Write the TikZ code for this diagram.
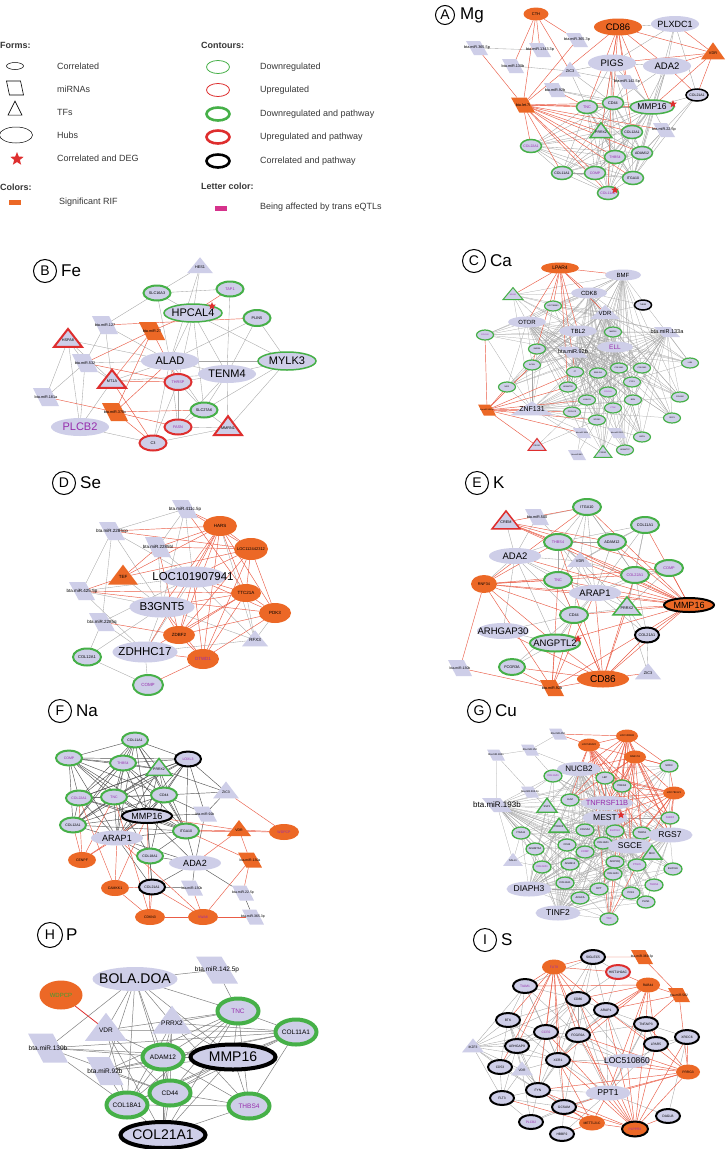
\documentclass[tikz,border=0pt]{standalone}
\usepackage{fontspec}
\setmainfont{Liberation Sans}
\usetikzlibrary{shapes.geometric,backgrounds}
\newcommand\myfs[1]{\fontsize{#1}{#1}\selectfont}
\newcommand\mypairs[2]{\foreach \xa/\xb in {#2}{\draw[#1] (\xa)--(\xb);}}
\newcommand\myfan[3]{\foreach \xb in {#3}{\draw[#1] (#2)--(\xb);}}
\newcommand\mybip[3]{\foreach \xa in {#2}{\foreach \xb in {#3}{\draw[#1] (\xa)--(\xb);}}}
\newcommand\myclq[2]{\foreach \xa [count=\ia] in {#2}{\foreach \xb [count=\ib] in {#2}{\ifnum\ia<\ib\relax\draw[#1] (\xa)--(\xb);\fi}}}
\definecolor{lav}{RGB}{206,206,232}
\definecolor{org}{RGB}{236,104,38}
\definecolor{grn}{RGB}{70,176,72}
\definecolor{rd}{RGB}{222,46,46}
\definecolor{mag}{RGB}{150,44,172}
\definecolor{eg}{RGB}{165,165,165}
\definecolor{er}{RGB}{234,92,70}
\definecolor{ek}{RGB}{85,85,85}
\definecolor{lgmag}{RGB}{214,50,140}
\definecolor{wgrn}{RGB}{60,160,50}
\definecolor{txt}{RGB}{55,55,55}
\tikzset{
 nb/.style={inner sep=0pt, outer sep=0pt, execute at begin node={\hbox to 0pt\bgroup\hss}, execute at end node={\hss\egroup}},
 E/.style 2 args={nb, ellipse, minimum width=#1, minimum height=#2},
 P/.style 2 args={nb, inner sep=1pt, trapezium, trapezium left angle=115, trapezium right angle=65, trapezium stretches=true, minimum width=#1, minimum height=#2},
 T/.style 2 args={nb, inner sep=1pt, isosceles triangle, isosceles triangle stretches, shape border rotate=90, minimum width=#1, minimum height=#2},
 L/.style={fill=lav}, O/.style={fill=org},
 G/.style={draw=grn, line width=#1}, G/.default=1.5,
 R/.style={draw=rd, line width=#1}, R/.default=1.5,
 K/.style={draw=black, line width=#1}, K/.default=1.5,
 M/.style={text=mag},
 f/.style={font=\myfs{#1}},
 ge/.style={draw=eg, line width=0.35},
 gc/.style={draw=eg, line width=0.25},
 re/.style={draw=er, line width=0.45},
 ke/.style={draw=ek, line width=0.45},
 he/.style={draw=black!50, line width=0.5},
 star5/.style={star, star points=5, star point ratio=2.3, fill=rd, minimum size=#1, inner sep=0pt},
 plab/.style={circle, draw, line width=1, minimum size=23, inner sep=0, font=\myfs{14}},
 ptit/.style={anchor=west, inner sep=0, font=\myfs{17}},
 lt/.style={anchor=west, inner sep=0, font=\myfs{9}, text=txt},
 lh/.style={anchor=west, inner sep=0, font=\bfseries\myfs{9}, text=txt},
}
\begin{document}
\begin{tikzpicture}[x=1pt,y=-1pt]
\useasboundingbox (0,0) rectangle (726,1149);
% ---------------- legend
\node[lh] (hForms) at (0,45) {Forms:};
\node[lh] (hCont) at (201,45) {Contours:};
\node[E={17}{7},draw,line width=0.5] (lg1) at (15,66) {};
\node[P={17}{14},draw,line width=0.6,trapezium left angle=105,trapezium right angle=75] (lg2) at (15,88) {};
\node[T={14}{14},draw,line width=0.6] (lg3) at (15,111) {};
\node[E={33}{16},draw,line width=0.5] (lg4) at (16,135) {};
\node[star5=14] (lg5) at (17,159) {};
\node[lt] (lt1) at (57,66) {Correlated};
\node[lt] (lt2) at (57,89) {miRNAs};
\node[lt] (lt3) at (57,112) {TFs};
\node[lt] (lt4) at (57,135) {Hubs};
\node[lt] (lt5) at (57,158) {Correlated and DEG};
\node[lh] (hCol) at (0,187) {Colors:};
\node[fill=org, minimum width=12, minimum height=5, inner sep=0] (lgRIF) at (15,202) {};
\node[lt] (lt6) at (59,202) {Significant RIF};
\node[E={23}{13},draw=grn,line width=0.8] (lc1) at (218,67) {};
\node[E={23}{13},draw=rd,line width=0.8] (lc2) at (218,90) {};
\node[E={23}{13},draw=grn,line width=2.6] (lc3) at (218,114) {};
\node[E={23}{13},draw=rd,line width=2.6] (lc4) at (218,137) {};
\node[E={23}{13},draw=black,line width=2.6] (lc5) at (218,161) {};
\node[lt] (lt7) at (260,67) {Downregulated};
\node[lt] (lt8) at (260,90) {Upregulated};
\node[lt] (lt9) at (260,114) {Downregulated and pathway};
\node[lt] (lt10) at (260,137) {Upregulated and pathway};
\node[lt] (lt11) at (260,161) {Correlated and pathway};
\node[lh] (hLet) at (201,186) {Letter color:};
\node[fill=lgmag, minimum width=12, minimum height=5, inner sep=0] (lgMag) at (221,208) {};
\node[lt] (lt12) at (260,207) {Being affected by trans eQTLs};
% ---------------- A Mg
\node[plab,minimum size=19] (labA) at (445,15) {A};
\node[ptit] (titA) at (460,15) {Mg};
\node[E={25}{13},O,f=4] (aCTH) at (536,14) {CTH};
\node[E={48}{17},O,f=9.5] (aCD86) at (618,27) {CD86};
\node[E={48}{16},L,f=9] (aPLX) at (675,24) {PLXDC1};
\node[P={22}{14},L,f=3.8] (a3653p) at (577,40) {bta.miR.365.3p};
\node[P={22}{14},L,f=3.8] (a3655p) at (477,48) {bta.miR.365.5p};
\node[P={22}{14},L,f=3.8] (a13433p) at (540,50) {bta.miR.1343.3p};
\node[T={24}{17},O,f=3.8] (aVDR) at (713,53) {VDR};
\node[E={48}{17},L,f=9.5] (aPIGS) at (612,63) {PIGS};
\node[E={48}{17},L,f=9.5] (aADA2) at (667,66) {ADA2};
\node[P={22}{14},L,f=3.8] (a130b) at (513,66) {bta.miR.130b};
\node[T={22}{15},L,f=3.8] (aZIC3) at (570,71) {ZIC3};
\node[P={22}{14},L,f=3.8] (a1425p) at (627,82) {bta.miR.142.5p};
\node[P={22}{14},L,f=3.8] (a92b) at (555,90) {bta.miR.92b};
\node[E={22}{12},L,K,f=3.5] (aCOL21A1) at (697,95) {COL21A1};
\node[P={24}{15},O,f=3.8] (alet7i) at (523,105) {bta.let.7i};
\node[E={21}{13},L,G,M,f=3.8] (aTNC) at (587,107) {TNC};
\node[E={21}{13},L,G,f=3.8] (aCD44) at (613,103) {CD44};
\node[E={44}{14},L,G,f=8.5] (aMMP16) at (652,107) {MMP16};
\node[T={22}{15},L,G,f=3.5] (aPRRX2) at (601,132) {PRRX2};
\node[E={21}{13},L,G,f=3.5] (aCOL12A1) at (632,132) {COL12A1};
\node[P={22}{14},L,f=3.8] (a225p) at (664,130) {bta.miR.22.5p};
\node[E={21}{13},L,G,M,f=3.5] (aCOL22A1) at (531,146) {COL22A1};
\node[E={21}{13},L,G,M,f=3.5] (aTHBS4) at (615,157) {THBS4};
\node[E={21}{13},L,G,f=3.5] (aADAM12) at (642,153) {ADAM12};
\node[E={21}{13},L,G,f=3.5] (aCOL11A1) at (562,173) {COL11A1};
\node[E={21}{13},L,G,M,f=3.5] (aCOMP) at (595,173) {COMP};
\node[E={21}{13},L,G,f=3.5] (aITGA10) at (633,178) {ITGA10};
\node[E={21}{13},L,G,M,f=3.5] (aCOL11A2) at (608,193) {COL11A2};
\node[star5=8] (aS1) at (673,104) {};
\node[star5=8] (aS2) at (615,190) {};
% ---------------- B Fe
\node[plab] (labB) at (45,271) {B};
\node[ptit] (titB) at (61,271) {Fe};
\node[T={26}{16},L,f=3.8] (bHES1) at (200,267) {HES1};
\node[E={27}{15},L,G=2,f=3.8] (bSLC16A3) at (157,293) {SLC16A3};
\node[E={27}{15},L,G=2,M,f=3.8] (bTAP1) at (230,289) {TAP1};
\node[E={58}{18},L,G,f=11] (bHPCAL4) at (193,313) {HPCAL4};
\node[E={27}{16},L,G=2,f=3.8] (bPLIN5) at (257,318) {PLIN5};
\node[P={26}{18},L,f=3.8] (b127) at (105,325) {bta.miR.127};
\node[P={26}{18},O,f=3.8] (b27) at (152,331) {bta.miR.27};
\node[T={28}{18},L,R=2,f=3.8] (bHSPA8) at (68,340) {HSPA8};
\node[P={26}{18},L,f=3.8] (b532) at (85,363) {bta.miR.532};
\node[E={58}{18},L,f=11] (bALAD) at (170,361) {ALAD};
\node[E={58}{18},L,G,f=11] (bMYLK3) at (287,361) {MYLK3};
\node[E={58}{18},L,f=11] (bTENM4) at (227,374) {TENM4};
\node[T={28}{18},L,R=2,f=3.8] (bMT1A) at (112,381) {MT1A};
\node[E={27}{16},L,R=2,M,f=3.8] (bTHRSP) at (178,382) {THRSP};
\node[P={26}{18},L,f=3.8] (b181a) at (46,397) {bta.miR.181a};
\node[P={26}{18},O,f=3.8] (b378c) at (115,412) {bta.miR.378c};
\node[E={27}{15},L,G=2,f=3.8] (bSLC27A6) at (204,410) {SLC27A6};
\node[E={58}{18},L,M,f=11] (bPLCB2) at (80,427) {PLCB2};
\node[E={27}{15},L,R=2,f=3.8] (bC3) at (153,443) {C3};
\node[E={27}{15},L,R=2,M,f=3.8] (bFASN) at (178,427) {FASN};
\node[T={28}{19},L,R=2,f=3.8] (bMID) at (228,428) {MMRN1};
\node[star5=8] (bS) at (212,306) {};
% ---------------- C Ca
\node[plab] (labC) at (474,261) {C};
\node[ptit] (titC) at (490,261) {Ca};
\node[E={38}{11},O,f=5] (cLPAR4) at (560,268) {LPAR4};
\node[E={36}{11},L,f=6] (cBMF) at (623,275) {BMF};
\node[E={36}{11},L,f=6] (cCDK8) at (589,293) {CDK8};
\node[T={20}{12},L,G=1,M,f=2] (cNR) at (513,295) {NR4A1};
\node[E={17}{10},L,G=1.2,f=2] (cLOC) at (553,306) {LOC789090};
\node[E={17}{10},L,K=1.5,f=2] (cTHB) at (643,305) {THBS3};
\node[T={30}{14},L,f=6] (cVDR) at (605,313) {VDR};
\node[E={38}{11},L,f=6] (cOTOR) at (527,322) {OTOR};
\node[E={38}{11},L,f=6] (cTBL2) at (578,331) {TBL2};
\node[E={17}{10},L,G=1.2,f=2] (cMMP) at (613,332) {MMP16};
\node[P={26}{10},L,f=5.5] (c133a) at (667,332) {bta.miR.133a};
\node[E={17}{10},L,G=1.2,M,f=2] (cCOL1A2) at (485,335) {COL1A2};
\node[E={17}{10},L,G=1.2,f=2] (cSMR) at (537,349) {SMR3A};
\node[P={30}{11},L,f=5.5] (c92b) at (573,352) {bta.miR.92b};
\node[E={36}{11},L,M,f=6.5] (cELL) at (615,347) {ELL};
\node[E={17}{10},L,G=1.2,f=2] (cLUM) at (690,363) {LUM};
\node[E={17}{10},L,G=1.2,f=2] (cACAN) at (532,365) {ACAN};
\node[E={17}{10},L,G=1.2,f=2] (cF) at (575,372) {F7};
\node[E={17}{10},L,G=1.2,f=2] (cEMI) at (598,373) {EMILIN1};
\node[E={17}{10},L,G=1.2,f=2] (cC15) at (619,368) {COL15A1};
\node[E={17}{10},L,G=1.2,f=2] (cC25) at (642,368) {COL25A1};
\node[E={17}{10},L,G=1.2,f=2] (cCYS) at (632,382) {CYS1};
\node[E={17}{10},L,G=1.2,f=2] (cADM) at (568,387) {ADAMTS2};
\node[E={17}{10},L,G=1.2,f=2] (cNID) at (507,387) {NID2};
\node[E={17}{10},L,G=1.2,M,f=2] (cC1) at (608,392) {COL1A1};
\node[E={17}{10},L,G=1.2,f=2] (cC6) at (680,397) {COL6A2};
\node[E={17}{10},L,G=1.2,f=2] (cLGA) at (587,400) {LGALS1};
\node[E={17}{10},L,G=1.2,f=2] (cBGN) at (633,400) {BGN};
\node[P={18}{11},O,f=2] (cMIRo) at (487,410) {bta.miR.365.5p};
\node[T={44}{14},L,f=7] (cZNF) at (532,409) {ZNF131};
\node[E={17}{10},L,G=1.2,f=2] (cPCOL) at (572,412) {PCOLCE};
\node[E={17}{10},L,G=1.2,M,f=2] (cCTSK) at (613,408) {CTSK};
\node[E={17}{10},L,G=1.2,f=2] (cSPON) at (597,420) {SPON2};
\node[E={17}{10},L,G=1.2,f=2] (cDDC) at (672,418) {SDC3};
\node[P={18}{10},L,f=2] (c199) at (582,433) {bta.miR.199b};
\node[P={18}{10},L,f=2] (c2) at (617,433) {bta.miR.2331};
\node[E={17}{10},L,G=1.2,f=2] (cG1) at (642,437) {ASPN};
\node[T={18}{12},L,R=1,f=2] (cPROX) at (537,446) {PROX1};
\node[P={18}{10},L,f=2] (cMIRx) at (577,455) {bta.miR.660};
\node[T={18}{12},L,G=1,f=2] (cTF2) at (603,453) {PRRX2};
\node[E={17}{10},L,G=1.2,f=2] (cG2) at (625,450) {ADAMTS7};
% ---------------- D Se
\node[plab] (labD) at (64,483) {D};
\node[ptit] (titD) at (80,483) {Se};
\node[P={26}{18},L,f=4.5] (d411) at (185,509) {bta.miR.411c.5p};
\node[E={34}{20},O,f=4.5] (dHARS) at (220,526) {HARS};
\node[P={26}{18},L,f=4.5] (d2285cp) at (112,531) {bta.miR.2285cp};
\node[P={26}{20},L,f=4.5] (d2285bl) at (158,547) {bta.miR.2285bl};
\node[E={34}{22},O,f=4] (dLOC112) at (251,549) {LOC112442312};
\node[T={30}{20},O,f=4.5] (dTEF) at (123,577) {TEF};
\node[E={66}{21},L,f=11.5] (dLOC101) at (193,577) {LOC101907941};
\node[P={26}{18},L,f=4.5] (d425) at (82,591) {bta.miR.425.5p};
\node[E={30}{18},O,f=4.5] (dTTC21A) at (246,593) {TTC21A};
\node[E={65}{21},L,f=11.5] (dB3GNT5) at (162,607) {B3GNT5};
\node[E={32}{20},O,f=4.5] (dPDK3) at (275,613) {PDK3};
\node[P={26}{18},L,f=4.5] (d2285q) at (102,622) {bta.miR.2285q};
\node[E={32}{18},O,f=4.5] (dZDBF2) at (179,635) {ZDBF2};
\node[T={26}{16},L,f=4.5] (dRFX3) at (255,640) {RFX3};
\node[E={65}{21},L,f=11.5] (dZDHHC17) at (145,652) {ZDHHC17};
\node[E={28}{17},L,G=2,f=4] (dCOL12A1) at (87,657) {COL12A1};
\node[E={32}{20},O,M,f=4.5] (dDTWD1) at (203,659) {DTWD1};
\node[E={30}{20},L,G=2,M,f=4.5] (dCOMP) at (148,685) {COMP};
% ---------------- E K
\node[plab] (labE) at (477,483) {E};
\node[ptit] (titE) at (493,483) {K};
\node[E={28}{16},L,G=2,f=3.8] (eITGA10) at (587,507) {ITGA10};
\node[P={24}{16},L,f=3.8] (e500) at (537,517) {bta.miR.500};
\node[T={28}{18},L,R,f=3.8] (eCREM) at (506,522) {CREM};
\node[E={28}{16},L,G=2,f=3.8] (eCOL11A1) at (645,525) {COL11A1};
\node[E={28}{16},L,G=2,M,f=3.8] (eTHBS4) at (558,542) {THBS4};
\node[E={28}{16},L,G=2,f=3.8] (eADAM12) at (612,542) {ADAM12};
\node[E={52}{16},L,f=9.5] (eADA2) at (515,556) {ADA2};
\node[T={26}{15},L,f=3.8] (eVDR) at (580,561) {VDR};
\node[E={28}{16},L,G=2,M,f=3.8] (eCOMP) at (669,568) {COMP};
\node[E={28}{16},L,G=2,M,f=3.8] (eCOL22A1) at (635,575) {COL22A1};
\node[E={28}{16},L,G=2,M,f=3.8] (eTNC) at (558,580) {TNC};
\node[E={26}{18},O,f=3.8] (eRNF34) at (484,584) {RNF34};
\node[E={52}{16},L,f=9.5] (eARAP1) at (595,593) {ARAP1};
\node[E={50}{14},O,K=2,f=9] (eMMP16) at (689,605) {MMP16};
\node[T={28}{18},L,G,f=3.8] (ePRRX2) at (627,608) {PRRX2};
\node[E={28}{16},L,G=2,f=3.8] (eCD44) at (574,615) {CD44};
\node[E={52}{16},L,f=9.5] (eARHGAP30) at (503,631) {ARHGAP30};
\node[E={24}{15},L,K=2,f=3.8] (eCOL21A1) at (647,635) {COL21A1};
\node[E={50}{17},L,G=2,f=9.5] (eANGPTL2) at (555,643) {ANGPTL2};
\node[P={24}{16},L,f=3.5] (e130b) at (460,668) {bta.miR.130b};
\node[E={26}{16},L,G=2,f=3.8] (eFCGR3A) at (512,667) {FCGR3A};
\node[E={52}{17},O,f=10] (eCD86) at (603,679) {CD86};
\node[T={26}{16},L,f=3.8] (eZIC3) at (648,673) {ZIC3};
\node[P={24}{16},O,f=3.8] (e92b) at (552,688) {bta.miR.92b};
\node[star5=8] (eS) at (578,639) {};
% ---------------- F Na
\node[plab] (labF) at (60,711) {F};
\node[ptit] (titF) at (76,711) {Na};
\node[E={26}{15},L,G=2,f=3.5] (fCOL11A1) at (135,740) {COL11A1};
\node[E={26}{15},L,G=2,M,f=3.5] (fCOMP) at (69,758) {COMP};
\node[E={26}{15},L,K=2,M,f=3.5] (fLOXL3) at (188,759) {LOXL3};
\node[E={26}{15},L,G=2,M,f=3.5] (fTHBS4) at (123,763) {THBS4};
\node[T={26}{17},L,G,f=3.5] (fPRRX2) at (159,769) {PRRX2};
\node[T={26}{17},L,f=3.5] (fZIC3) at (226,792) {ZIC3};
\node[E={26}{15},L,G=2,M,f=3.5] (fCOL22A1) at (79,798) {COL22A1};
\node[E={26}{15},L,G=2,M,f=3.5] (fTNC) at (114,797) {TNC};
\node[E={26}{15},L,G=2,f=3.5] (fCD44) at (164,795) {CD44};
\node[E={50}{14},L,K=2,f=9] (fMMP16) at (147,816) {MMP16};
\node[P={24}{15},L,f=3.5] (f92b) at (205,814) {bta.miR.92b};
\node[E={26}{15},L,G=2,f=3.5] (fCOL12A1) at (73,825) {COL12A1};
\node[E={26}{15},L,G=2,f=3.5] (fITGA10) at (186,831) {ITGA10};
\node[T={24}{16},O,f=3.5] (fVDR) at (239,830) {VDR};
\node[E={30}{16},O,M,f=3.5] (fWDPCP) at (284,832) {WDPCP};
\node[E={52}{15},L,f=9] (fARAP1) at (117,838) {ARAP1};
\node[E={26}{15},L,G=2,f=3.5] (fCOL18A1) at (150,856) {COL18A1};
\node[E={28}{16},O,f=3.5] (fCENPF) at (82,860) {CENPF};
\node[E={52}{15},L,f=9] (fADA2) at (195,863) {ADA2};
\node[P={24}{15},O,f=3.5] (f130a) at (250,860) {bta.miR.130a};
\node[E={28}{16},O,f=3.5] (fCAMKK1) at (115,888) {CAMKK1};
\node[E={26}{15},L,K=2,f=3.5] (fCOL21A1) at (152,887) {COL21A1};
\node[P={22}{15},L,f=3.5] (f130b) at (192,888) {bta.miR.130b};
\node[P={22}{15},L,f=3.5] (f225p) at (243,893) {bta.miR.22.5p};
\node[E={30}{16},O,f=3.5] (fCDKN3) at (150,917) {CDKN3};
\node[E={30}{16},O,M,f=3.5] (fVWA) at (203,917) {VWA8};
\node[P={22}{15},L,f=3.5] (f3653p) at (253,917) {bta.miR.365.3p};
% ---------------- G Cu
\node[plab] (labG) at (479,711) {G};
\node[ptit] (titG) at (495,711) {Cu};
\node[P={18}{11},L,f=2.6] (gm450) at (558,734) {bta.miR.450};
\node[E={22}{13},O,f=2.6] (gLOCa) at (627,736) {LOC100848};
\node[E={22}{13},O,f=2.6] (gLOCb) at (589,745) {LOC530422};
\node[P={18}{11},L,f=2.6] (gm1) at (530,750) {bta.miR.150};
\node[P={18}{11},L,f=2.6] (gm2) at (496,755) {bta.miR.1801};
\node[E={22}{13},O,f=2.6] (gRAB) at (635,757) {RAB17A};
\node[E={18}{12},L,G=1.3,f=2.6] (gSOD) at (669,766) {SOD3};
\node[E={44}{14},L,f=8] (gNUCB2) at (579,769) {NUCB2};
\node[E={18}{12},L,G=1.3,M,f=2.6] (gCOL) at (553,776) {COL14A1};
\node[E={18}{12},L,G=1.3,f=2.6] (gLEP) at (605,778) {LEP};
\node[E={18}{12},L,G=1.3,f=2.6] (gPRKG) at (622,786) {PRKG2};
\node[P={18}{11},L,f=2.6] (gm3655) at (530,792) {bta.miR.365.5p};
\node[E={22}{13},O,f=2.6] (gLOCc) at (674,793) {LOC784121};
\node[E={18}{12},L,G=1.3,f=2.6] (gLUM) at (570,800) {LUM};
\node[E={52}{14},L,M,f=7.5] (gTNF) at (607,803) {TNFRSF11B};
\node[P={30}{14},L,f=8] (gm193b) at (497,805) {bta.miR.193b};
\node[T={20}{14},L,G=1.3,f=2.6] (gSSP1) at (547,807) {SSP1};
\node[E={45}{15},L,f=8.5] (gMEST) at (605,818) {MEST};
\node[E={18}{12},L,G=1.3,M,f=2.6] (gFABP) at (670,818) {FABP4};
\node[T={20}{14},L,G=1.3,f=2.6] (gPRRX2) at (559,827) {PRRX2};
\node[E={18}{12},L,G=1.3,f=2.6] (gCOL5A2) at (585,830) {COL5A2};
\node[E={18}{12},L,G=1.3,M,f=2.6] (gELOVL) at (615,831) {ELOVL3};
\node[E={18}{12},L,G=1.3,f=2.6] (gTHBS1) at (642,833) {THBS1};
\node[E={18}{12},L,G=1.3,f=2.6] (gITGA) at (521,833) {ITGA11};
\node[E={45}{15},L,f=8.5] (gRGS7) at (670,835) {RGS7};
\node[E={18}{12},L,G=1.3,f=2.6] (gCOL18) at (603,843) {COL18A1};
\node[E={45}{15},L,f=8.5] (gSGCE) at (630,846) {SGCE};
\node[E={18}{12},L,G=1.3,f=2.6] (gCD44) at (567,845) {CD44};
\node[E={18}{12},L,G=1.3,f=2.6] (gADAM) at (535,849) {ADAMTS4};
\node[T={20}{14},L,G=1.3,f=2.6] (gNKX) at (652,854) {MKX};
\node[E={18}{12},L,G=1.3,M,f=2.6] (gCOMP) at (585,852) {COMP};
\node[T={20}{13},L,f=2.6] (gSAL) at (513,861) {SALL1};
\node[E={18}{12},L,G=1.3,M,f=2.6] (gCOLEC) at (542,867) {COL22A1};
\node[E={18}{12},L,G=1.3,f=2.6] (gADAM12) at (570,864) {ADAM12};
\node[E={18}{12},L,G=1.3,f=2.6] (gADIPOQ) at (615,862) {ADIPOQ};
\node[E={18}{12},L,G=1.3,M,f=2.6] (gPTGIS) at (637,865) {PTGIS};
\node[E={18}{12},L,G=1.3,f=2.6] (gELOVL6) at (673,869) {ELOVL6};
\node[E={18}{12},L,G=1.3,f=2.6] (gCOLx) at (613,874) {COL12A1};
\node[E={18}{12},L,G=1.3,f=2.6] (gCOL11) at (565,883) {COL11A1};
\node[E={45}{15},L,f=8.5] (gDIAPH3) at (529,889) {DIAPH3};
\node[E={18}{12},L,G=1.3,f=2.6] (gX) at (599,889) {DPT};
\node[E={18}{12},L,G=1.3,M,f=2.6] (gTHBS4) at (654,885) {THBS4};
\node[E={18}{12},L,G=1.3,f=2.6] (gPCK) at (631,893) {PCK1};
\node[E={18}{12},L,G=1.3,f=2.6] (gAGK) at (580,898) {ACACA};
\node[E={18}{12},L,G=1.3,f=2.6] (gPLIN1) at (646,902) {PLIN1};
\node[E={45}{15},L,f=8.5] (gTINF2) at (558,913) {TINF2};
\node[E={18}{12},L,G=1.3,M,f=2.6] (gTNC) at (609,919) {TNC};
\node[star5=8] (gS) at (621,815) {};
% ---------------- H P
\node[plab,minimum size=25] (labH) at (50,935) {H};
\node[ptit] (titH) at (66,935) {P};
\node[P={42}{27},L,f=6.5] (h142) at (217,970) {bta.miR.142.5p};
\node[E={85}{24},L,f=14] (hBOLA) at (135,979) {BOLA.DOA};
\node[E={43}{29},O,text=wgrn,f=6] (hWDPCP) at (61,995) {WDPCP};
\node[E={41}{25},L,G=4,M,f=6.5] (hTNC) at (238,1011) {TNC};
\node[T={40}{28},L,f=6.5] (hPRRX2) at (172,1023) {PRRX2};
\node[T={42}{28},L,f=6.5] (hVDR) at (106,1030) {VDR};
\node[E={41}{25},L,G=4,f=6.5] (hCOL11A1) at (296,1032) {COL11A1};
\node[P={40}{29},L,f=6.5] (h130b) at (48,1048) {bta.miR.130b};
\node[E={41}{25},L,G=4,f=6.5] (hADAM12) at (163,1057) {ADAM12};
\node[E={85}{25},L,K=4,f=14] (hMMP16) at (233,1057) {MMP16};
\node[P={37}{28},L,f=6.5] (h92b) at (105,1071) {bta.miR.92b};
\node[E={41}{25},L,G=4,f=6.5] (hCD44) at (170,1093) {CD44};
\node[E={41}{25},L,G=4,f=6.5] (hCOL18A1) at (127,1105) {COL18A1};
\node[E={41}{25},L,G=4,M,f=6.5] (hTHBS4) at (249,1106) {THBS4};
\node[E={85}{26},L,K=4,f=14] (hCOL21A1) at (163,1135) {COL21A1};
% ---------------- I S
\node[plab] (labI) at (485,940) {I};
\node[ptit] (titI) at (501,940) {S};
\node[E={24}{14},L,K=2,f=3.3] (iSIGLEC5) at (593,957) {SIGLEC5};
\node[P={22}{14},O,f=3.3] (i3693p) at (642,957) {bta.miR.369.3p};
\node[E={24}{15},O,M,f=3.3] (iFUT) at (554,967) {FUT8};
\node[E={24}{14},L,R=2,f=3.3] (iHIST) at (618,972) {HIST1H2AC};
\node[E={24}{14},L,K=2,M,f=3.3] (iTIAM1) at (525,986) {TIAM1};
\node[E={24}{15},O,f=3.3] (iRAB44) at (648,985) {RAB44};
\node[P={22}{14},O,f=3.3] (i582) at (679,995) {bta.miR.582};
\node[E={24}{14},L,K=2,f=3.3] (iCD86) at (578,999) {CD86};
\node[E={24}{14},L,K=2,f=3.3] (iARAP1) at (606,1010) {ARAP1};
\node[E={24}{14},L,K=2,f=3.3] (iBTK) at (508,1020) {BTK};
\node[E={24}{14},L,K=2,f=3.3] (iTNFAIP3) at (646,1024) {TNFAIP3};
\node[E={24}{14},L,K=2,M,f=3.3] (iCCR2) at (546,1032) {CCR2};
\node[E={24}{14},L,K=2,f=3.3] (iFCGR2A) at (578,1035) {FCGR2A};
\node[E={24}{14},L,K=2,f=3.3] (iXRCC6) at (687,1037) {XRCC6};
\node[E={24}{14},L,K=2,f=3.3] (iLPAR5) at (656,1044) {LPAR5};
\node[T={22}{14},L,f=3.3] (iIKZF3) at (473,1047) {IKZF3};
\node[E={24}{14},L,K=2,f=3.3] (iARHGAP9) at (517,1046) {ARHGAP9};
\node[E={24}{14},L,K=2,f=3.3] (iXCR1) at (558,1060) {XCR1};
\node[E={46}{14},L,f=8.5] (iLOC) at (627,1061) {LOC510860};
\node[E={24}{14},L,K=2,f=3.3] (iCD53) at (500,1067) {CD53};
\node[T={22}{14},L,f=3.3] (iVDR) at (522,1070) {VDR};
\node[E={24}{15},O,f=3.3] (iPRRG3) at (688,1072) {PRRG3};
\node[E={24}{14},L,K=2,f=3.3] (iFYN) at (538,1090) {FYN};
\node[E={45}{15},L,f=8.5] (iPPT1) at (608,1093) {PPT1};
\node[E={24}{14},L,K=2,f=3.3] (iFLT3) at (502,1098) {FLT3};
\node[E={24}{14},L,K=2,f=3.3] (iGCSAM) at (564,1107) {GCSAM};
\node[E={24}{14},L,K=2,f=3.3] (iDAGLB) at (668,1116) {DAGLB};
\node[E={24}{14},L,K=2,M,f=3.3] (iPLCB2) at (531,1122) {PLCB2};
\node[E={26}{15},O,f=3.3] (iMETTL) at (592,1123) {METTL21C};
\node[E={26}{15},O,K=2,M,f=3.3] (iPLPPR) at (635,1129) {PLPPR3};
\node[E={24}{14},L,K=2,f=3.3] (iHBBP2) at (562,1134) {HBBP2};
% ================= edges
\begin{scope}[on background layer]
\fill[white] (0,0) rectangle (726,1149);
% A
\myclq{ge}{aTNC,aCD44,aMMP16,aPRRX2,aCOL12A1,aCOL22A1,aTHBS4,aADAM12,aCOL11A1,aCOMP,aITGA10,aCOL11A2}
\mypairs{ge}{a3655p/a13433p,a130b/aZIC3,aCD86/aPLX,aPLX/aPIGS,aPLX/aADA2,aPLX/aCOL21A1,aPLX/aMMP16,aPIGS/aADA2,aPIGS/aTNC,aPIGS/aCD44,aPIGS/aMMP16,aPIGS/aCOL12A1,aPIGS/aPRRX2,aADA2/aMMP16,aADA2/aCD44,aADA2/aCOL12A1,aADA2/aADAM12,aADA2/aITGA10,aZIC3/aTNC,aZIC3/aCD44,aZIC3/aPIGS,aZIC3/a1425p,a1425p/aMMP16,a1425p/aCD44,a92b/aCD44,a92b/aMMP16,aCOL21A1/aMMP16,aCOL21A1/aADAM12,aCOL21A1/aITGA10,a225p/aMMP16,a225p/aITGA10,a225p/aADAM12}
\mypairs{re}{aCTH/a130b,aCTH/a13433p,aCTH/aZIC3,aCTH/a3653p,aCTH/alet7i,a3655p/alet7i,a3653p/alet7i,aCD86/aPIGS,aCD86/aADA2,aCD86/aVDR,aCD86/aTNC,aCD86/aCD44,aCD86/aMMP16,aCD86/a1425p,aCD86/aPRRX2,aCD86/alet7i,aCD86/aCOL12A1,aPLX/aVDR,aVDR/aADA2,aVDR/aCOL21A1,aVDR/aMMP16,aVDR/aPIGS,alet7i/aTNC,alet7i/aCD44,alet7i/aMMP16,alet7i/aCOL22A1,alet7i/aCOL11A1,alet7i/aCOMP,alet7i/aTHBS4,alet7i/aADAM12,alet7i/aITGA10,alet7i/aCOL11A2,alet7i/aPRRX2,alet7i/aCOL12A1,alet7i/a225p,a92b/aTNC,aPIGS/aCOL11A2,aADA2/aCOL21A1}
% B
\mypairs{ge}{bHES1/bSLC16A3,bHES1/bHPCAL4,bHES1/bALAD,bSLC16A3/bTAP1,bSLC16A3/bHPCAL4,bSLC16A3/bALAD,bSLC16A3/b127,bTAP1/bTENM4,bHPCAL4/bALAD,bHPCAL4/bTENM4,bHPCAL4/bMYLK3,bHPCAL4/bTHRSP,bHPCAL4/bSLC27A6,bPLIN5/bTENM4,bPLIN5/bMYLK3,bPLIN5/bALAD,b127/bALAD,b127/bMT1A,b127/b532,bHSPA8/bALAD,bHSPA8/b532,bHSPA8/b181a,bHSPA8/bPLCB2,b532/bALAD,b532/bMT1A,bALAD/bTENM4,bALAD/bMYLK3,bALAD/bTHRSP,bALAD/bSLC27A6,bALAD/bMT1A,bALAD/bC3,bALAD/bFASN,bTENM4/bMYLK3,bTENM4/bTHRSP,bTENM4/bSLC27A6,bTENM4/bFASN,bTENM4/bMID,bMYLK3/bSLC27A6,bMYLK3/bMID,bMT1A/bTENM4,bTHRSP/bSLC27A6,bTHRSP/bC3,bTHRSP/bFASN,bSLC27A6/bFASN,bSLC27A6/bMID,bPLCB2/bMT1A,bPLCB2/b532,b181a/b532,bPLCB2/bC3,bHSPA8/bMT1A,bFASN/bMID,bC3/bMID}
\mypairs{re}{b127/bPLIN5,b27/b532,b27/bHPCAL4,b27/b378c,b27/bMT1A,b27/bTHRSP,bMT1A/bTHRSP,bMT1A/bC3,b181a/b378c,b378c/bSLC27A6,b378c/bALAD,b378c/bFASN,b378c/bC3,bHPCAL4/bTAP1,b532/bTHRSP}
% C
\mybip{gc}{cBMF,cCDK8,cOTOR,cTBL2,cVDR,cELL,c92b,c133a,cZNF}{cNR,cLOC,cMMP,cCOL1A2,cSMR,cLUM,cACAN,cF,cEMI,cC15,cC25,cCYS,cADM,cNID,cC1,cC6,cLGA,cBGN,cPCOL,cCTSK,cSPON,cDDC,cG1,cTF2,cG2}
\mypairs{gc}{cTHB/cVDR,cTHB/cCDK8,cBMF/cCDK8,cCDK8/cOTOR,cOTOR/cTBL2,cTBL2/cVDR,c199/cLGA,c199/cPCOL,c2/cBGN,c2/cCTSK,cMIRx/cSPON,cMIRx/cLGA,cPROX/cPCOL,cPROX/cSPON,cG2/cBGN,cTF2/cCTSK}
\myfan{re}{cLPAR4}{cNR,cLOC,cOTOR,cCDK8,cTBL2,cVDR,cF,cADM,cBMF,cACAN}
\myfan{re}{cMIRo}{cCOL1A2,cACAN,cNID,cPCOL,cSPON,cF,cADM,c199,cLGA,cPROX,cZNF}
% D
\mypairs{ge}{d411/d2285cp,d411/d2285bl,d411/dLOC101,d411/dB3GNT5,d2285cp/d425,d2285cp/d2285q,d2285cp/dB3GNT5,d2285cp/dLOC101,d2285bl/dB3GNT5,d2285bl/dLOC101,dTEF/dB3GNT5,d425/dB3GNT5,d425/dLOC101,d425/dZDHHC17,d2285q/dLOC101,d2285q/dZDHHC17,d2285q/dCOL12A1,dLOC101/dRFX3,dB3GNT5/dRFX3,dB3GNT5/dZDHHC17,dZDHHC17/dCOMP,dZDHHC17/dRFX3,dCOL12A1/dCOMP,dRFX3/dHARS,dRFX3/dTTC21A,dRFX3/dPDK3,dLOC101/dZDHHC17,dCOL12A1/dB3GNT5}
\mypairs{re}{d411/dHARS,d411/dLOC112,d411/dTTC21A,d2285cp/dHARS,d2285cp/dLOC112,d2285bl/dHARS,d2285bl/dLOC112,d2285bl/dTEF,d2285bl/dZDBF2,dTEF/dHARS,dTEF/dLOC112,d425/dTEF,d425/dTTC21A,d425/dPDK3,d2285q/dZDBF2,dHARS/dLOC112,dHARS/dTTC21A,dHARS/dPDK3,dHARS/dZDBF2,dHARS/dDTWD1,dLOC112/dTTC21A,dLOC112/dPDK3,dLOC112/dDTWD1,dLOC112/dZDBF2,dTTC21A/dPDK3,dTTC21A/dZDBF2,dTTC21A/dDTWD1,dPDK3/dDTWD1,dPDK3/dZDBF2,dZDBF2/dDTWD1,dLOC101/dHARS,dLOC101/dLOC112,dLOC101/dTTC21A,dLOC101/dPDK3,dLOC101/dZDBF2,dLOC101/dDTWD1,dB3GNT5/dHARS,dB3GNT5/dTTC21A,dB3GNT5/dZDBF2,dB3GNT5/dDTWD1,dZDHHC17/dDTWD1,dCOMP/dDTWD1,dZDHHC17/dHARS,dZDHHC17/dTTC21A}
% E
\mypairs{ge}{eITGA10/eTHBS4,eITGA10/eADAM12,eITGA10/eVDR,eITGA10/eTNC,eITGA10/eARAP1,eITGA10/eCOL22A1,eITGA10/e500,eCOL11A1/eADAM12,eCOL11A1/eTHBS4,eCOL11A1/eVDR,eCOL11A1/eCOL22A1,eCOL11A1/ePRRX2,eCOL11A1/eARAP1,e500/eADA2,e500/eVDR,eADA2/eTHBS4,eADA2/eTNC,eADA2/eVDR,eADA2/eARAP1,eADA2/eCD44,eADA2/eARHGAP30,eADA2/eANGPTL2,eCREM/eADA2,eTHBS4/eADAM12,eTHBS4/eVDR,eTHBS4/eTNC,eTHBS4/eARAP1,eADAM12/eVDR,eADAM12/eCOL22A1,eADAM12/eARAP1,eVDR/eTNC,eVDR/eCOL22A1,eVDR/eARAP1,eVDR/eCD44,eVDR/ePRRX2,eCOMP/eCOL22A1,eCOMP/ePRRX2,eCOMP/eARAP1,eCOL22A1/eARAP1,eCOL22A1/ePRRX2,eCOL22A1/eCOL21A1,eTNC/eARAP1,eTNC/eCD44,eARAP1/eCD44,eARAP1/ePRRX2,eARAP1/eANGPTL2,eARAP1/eCOL21A1,eCD44/ePRRX2,eCD44/eANGPTL2,eCD44/eARHGAP30,ePRRX2/eCOL21A1,eARHGAP30/eANGPTL2,eANGPTL2/eFCGR3A,eZIC3/eCOL21A1,eZIC3/ePRRX2,eFCGR3A/eCD44,eADA2/eRNF34}
\mypairs{re}{eRNF34/eTHBS4,eRNF34/eTNC,eRNF34/eARAP1,eRNF34/eMMP16,eRNF34/eCD44,eRNF34/eANGPTL2,eRNF34/e130b,eRNF34/e92b,eRNF34/eCOL22A1,eRNF34/eCOMP,eRNF34/eITGA10,eMMP16/eITGA10,eMMP16/eCOL11A1,eMMP16/eTHBS4,eMMP16/eADAM12,eMMP16/eCOMP,eMMP16/eCOL22A1,eMMP16/eTNC,eMMP16/eARAP1,eMMP16/ePRRX2,eMMP16/eCD44,eMMP16/eCOL21A1,eMMP16/eANGPTL2,eMMP16/eCD86,eMMP16/e92b,eMMP16/eADA2,eMMP16/eVDR,eMMP16/eCREM,eCD86/eANGPTL2,eCD86/eCD44,eCD86/eARAP1,eCD86/eTNC,eCD86/eCOL22A1,eCD86/ePRRX2,eCD86/eCOL21A1,eCD86/eZIC3,eCD86/e92b,eCD86/eFCGR3A,eCD86/eARHGAP30,eCD86/eTHBS4,e92b/e130b,e92b/eFCGR3A,e92b/eANGPTL2,e92b/eARAP1,e92b/eCD44,e92b/eTNC,eCREM/eITGA10,eCREM/eTHBS4,eCREM/eADAM12,eCREM/eCOL22A1,eCREM/eCOMP}
% F
\myclq{ke}{fCOL11A1,fCOMP,fLOXL3,fTHBS4,fPRRX2,fCOL22A1,fTNC,fCD44,fMMP16,fCOL12A1,fITGA10,fARAP1}
\mypairs{ke}{fZIC3/fLOXL3,fZIC3/fCD44,fZIC3/fPRRX2,fZIC3/f92b,f92b/fMMP16,f92b/fCD44,f92b/fLOXL3,f92b/fADA2,fADA2/fITGA10,fADA2/fARAP1,fADA2/fMMP16,fADA2/fCOL21A1,fADA2/f130b,fADA2/f225p,fADA2/fCOL18A1,fCOL18A1/fMMP16,fCOL18A1/fARAP1,fCOL18A1/fITGA10,fCOL18A1/fCD44,fCOL18A1/fTNC,fCOL21A1/fARAP1,fCOL21A1/fMMP16,f225p/f3653p,f130b/fCOL21A1,fCOL18A1/fCOL21A1}
\mypairs{re}{fVDR/fWDPCP,fVDR/fITGA10,fVDR/fADA2,fZIC3/fWDPCP,f130a/fVDR,f130a/fVWA,f130a/fITGA10,f130a/f225p,fCENPF/fARAP1,fCENPF/fTNC,fCENPF/fCOL12A1,fCENPF/fMMP16,fCAMKK1/fARAP1,fCAMKK1/fCOL21A1,fCAMKK1/fCDKN3,fCAMKK1/fMMP16,fCDKN3/fCOL21A1,fCDKN3/fVWA,fCDKN3/fMMP16,fVWA/f130b,fVWA/f3653p,fVWA/fCOL21A1,fVWA/fARAP1,fCDKN3/fTNC,fCAMKK1/fCOL22A1,fVDR/fMMP16,fWDPCP/fITGA10,fCENPF/fCOL22A1}
% G
\mybip{gc}{gNUCB2,gTNF,gMEST,gSGCE,gRGS7,gDIAPH3,gTINF2,gm193b}{gSOD,gCOL,gLEP,gPRKG,gLUM,gSSP1,gFABP,gPRRX2,gCOL5A2,gELOVL,gTHBS1,gITGA,gCOL18,gCD44,gADAM,gNKX,gCOMP,gCOLEC,gADAM12,gADIPOQ,gPTGIS,gELOVL6,gCOLx,gCOL11,gX,gTHBS4,gPCK,gAGK,gPLIN1,gTNC}
\mypairs{gc}{gm450/gm1,gm1/gNUCB2,gm1/gm2,gm1/gCOL,gm2/gm193b,gm2/gm3655,gm3655/gm193b,gm3655/gLUM,gm3655/gSSP1,gm3655/gCOL,gSAL/gITGA,gSAL/gADAM,gSAL/gm193b,gSAL/gCOLEC}
\mybip{re}{gLOCa,gLOCb,gRAB,gLOCc}{gNUCB2,gTNF,gMEST,gLEP,gPRKG,gSOD,gFABP,gELOVL,gTHBS1,gSGCE,gRGS7,gLUM,gTNC}
\mypairs{re}{gm450/gLOCa,gm450/gLOCb,gLOCa/gLOCb,gLOCa/gRAB,gRAB/gLOCc}
% H
\mypairs{he}{hBOLA/h142,hBOLA/h130b,hBOLA/hVDR,hBOLA/hPRRX2,hBOLA/hADAM12,hBOLA/hCD44,hBOLA/hCOL18A1,hBOLA/hMMP16,hBOLA/hTNC,hBOLA/h92b,h142/hTNC,hVDR/hTNC,hVDR/hCOL11A1,hVDR/hADAM12,hVDR/hCD44,hVDR/hCOL18A1,hVDR/hCOL21A1,hPRRX2/hTNC,hPRRX2/hCOL11A1,hPRRX2/hADAM12,hPRRX2/hMMP16,hPRRX2/hCD44,hPRRX2/hCOL18A1,hPRRX2/hTHBS4,hPRRX2/hCOL21A1,h130b/hADAM12,h130b/hCOL11A1,h130b/hCD44,h130b/hCOL18A1,h130b/hMMP16,h92b/hADAM12,h92b/hCD44,h92b/hMMP16,h92b/hCOL18A1,h92b/hTNC,h92b/hCOL11A1,hTNC/hCOL11A1,hTNC/hADAM12,hTNC/hMMP16,hTNC/hCD44,hTNC/hCOL18A1,hTNC/hTHBS4,hTNC/hCOL21A1,hCOL11A1/hADAM12,hCOL11A1/hMMP16,hCOL11A1/hCD44,hCOL11A1/hTHBS4,hCOL11A1/hCOL18A1,hADAM12/hMMP16,hADAM12/hCD44,hADAM12/hCOL18A1,hADAM12/hTHBS4,hADAM12/hCOL21A1,hMMP16/hCD44,hMMP16/hTHBS4,hMMP16/hCOL18A1,hMMP16/hCOL21A1,hCD44/hCOL18A1,hCD44/hTHBS4,hCD44/hCOL21A1,hCOL18A1/hTHBS4,hCOL18A1/hCOL21A1,hTHBS4/hCOL21A1}
\draw[draw=rd, line width=0.8] (hWDPCP)--(hVDR);
% I
\myfan{ge}{iIKZF3}{iBTK,iARHGAP9,iCD53,iFLT3,iTIAM1,iVDR,iCCR2,iXCR1,iFYN,iFCGR2A,iCD86}
\myfan{ge}{iTIAM1}{iBTK,iARHGAP9,iCCR2,iCD86,iSIGLEC5,iXCR1,iFCGR2A}
\myfan{ge}{iSIGLEC5}{iCD86,iARAP1,iFCGR2A,iHIST,iCCR2}
\myfan{ge}{iCD86}{iARAP1,iBTK,iCCR2,iFCGR2A,iXCR1,iARHGAP9,iLOC,iPPT1,iFYN}
\myfan{ge}{iARAP1}{iTNFAIP3,iFCGR2A,iXCR1,iLOC,iPPT1,iLPAR5,iCCR2}
\myfan{ge}{iBTK}{iARHGAP9,iCD53,iCCR2,iXCR1,iFYN,iVDR}
\myfan{ge}{iCCR2}{iFCGR2A,iXCR1,iARHGAP9,iVDR,iFYN,iLOC}
\myfan{ge}{iFCGR2A}{iXCR1,iLOC,iPPT1,iTNFAIP3,iFYN,iGCSAM}
\myfan{ge}{iTNFAIP3}{iLPAR5,iXRCC6,iLOC,iPPT1}
\myfan{ge}{iXRCC6}{iLPAR5,iLOC,iDAGLB}
\myfan{ge}{iARHGAP9}{iCD53,iVDR,iXCR1,iFYN,iFLT3}
\myfan{ge}{iXCR1}{iFYN,iVDR,iPPT1,iLOC,iGCSAM}
\myfan{ge}{iCD53}{iVDR,iFLT3,iFYN}
\myfan{ge}{iVDR}{iFYN,iFLT3,iPLCB2,iGCSAM}
\myfan{ge}{iFYN}{iPPT1,iGCSAM,iFLT3,iPLCB2}
\myfan{ge}{iPPT1}{iLOC,iGCSAM,iDAGLB,iHBBP2,iPLCB2,iLPAR5}
\mypairs{ge}{iFLT3/iPLCB2,iFLT3/iGCSAM,iGCSAM/iPLCB2,iGCSAM/iHBBP2,iHIST/iARAP1,iHIST/iCD86}
\myfan{re}{iFUT}{iSIGLEC5,iHIST,iTIAM1,iCD86,iBTK,iARHGAP9,iXCR1,iFCGR2A,iARAP1,iFYN,iPPT1,iCCR2,iGCSAM,iCD53}
\myfan{re}{iRAB44}{iARAP1,iCD86,iTNFAIP3,iLPAR5,iXCR1,iPPT1,iLOC,iTIAM1,iFCGR2A,iHIST}
\myfan{re}{iPRRG3}{iLOC,iPPT1,iTNFAIP3,iXRCC6,i582,iPLPPR,iGCSAM,iFYN,iARAP1,iFCGR2A,iXCR1}
\myfan{re}{iPLPPR}{iARAP1,iFCGR2A,iXCR1,iCCR2,iPPT1,iLOC,iLPAR5,iTNFAIP3,iXRCC6,iDAGLB,iMETTL,iGCSAM,iFYN,iCD86}
\myfan{re}{iMETTL}{iPPT1,iFYN,iGCSAM,iXCR1,iHBBP2,iFLT3}
\mypairs{re}{i3693p/iSIGLEC5,i3693p/i582,i582/iRAB44,i582/iARAP1,i582/iTNFAIP3}
\end{scope}
\end{tikzpicture}
\end{document}
